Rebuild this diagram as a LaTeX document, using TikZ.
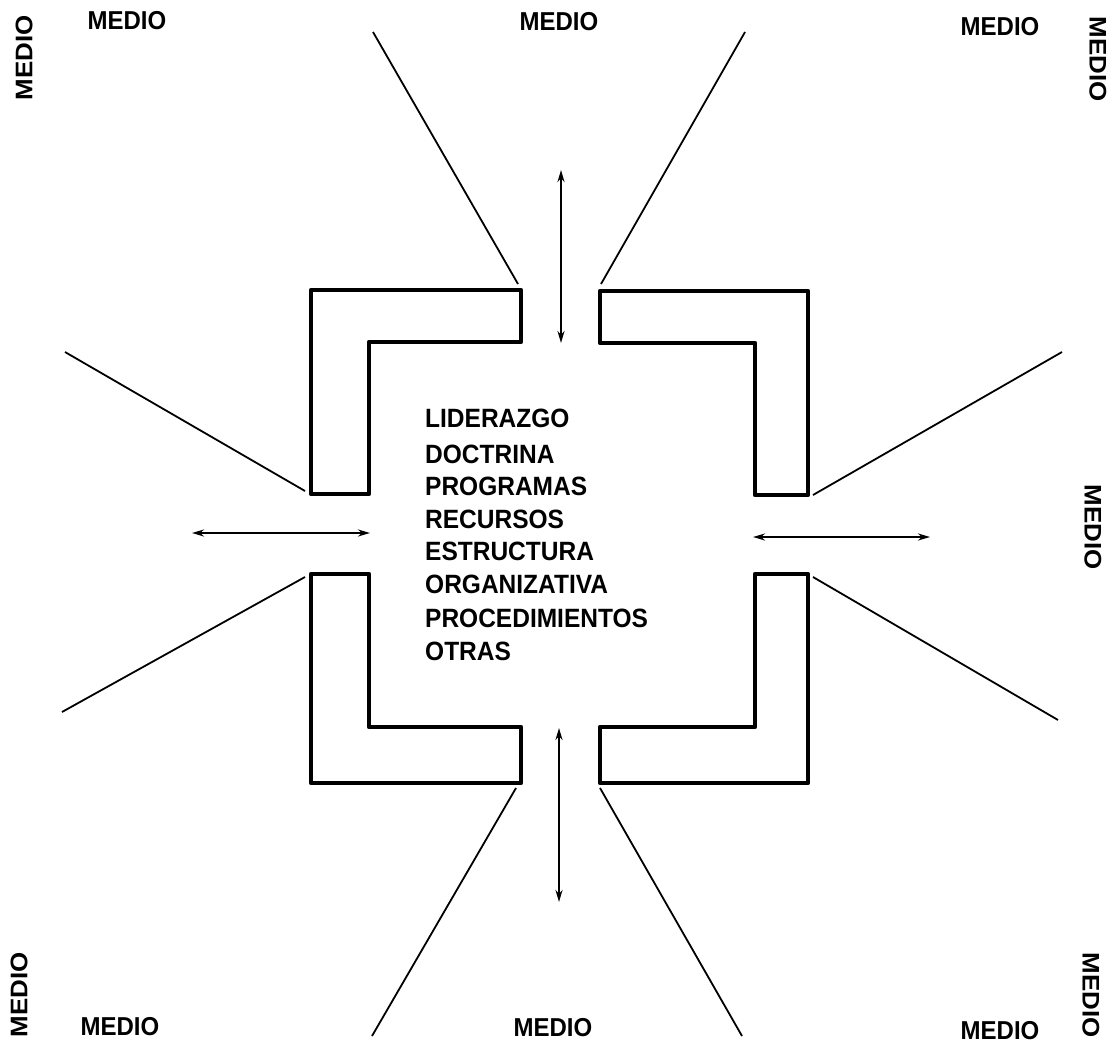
\documentclass[tikz,border=0pt]{standalone}
\usepackage{fontspec}
\setmainfont{Liberation Sans}
\usetikzlibrary{arrows.meta}
\begin{document}
\begin{tikzpicture}[x=1pt,y=-1pt,
  lshape/.style={line width=4.5pt,line join=round},
  ray/.style={line width=1.8pt},
  twoway/.style={line width=2.6pt,{Stealth[length=12pt,width=7pt]}-{Stealth[length=12pt,width=7pt]}},
  lbl/.style={font=\bfseries\fontsize{24}{24}\selectfont,inner sep=0pt,yscale=1.08},
  item/.style={font=\bfseries\fontsize{24.5}{24.5}\selectfont,inner sep=0pt,anchor=base west,yscale=1.08}]
\useasboundingbox (0,0) rectangle (1117,1046);
% L shapes
\draw[lshape] (311,290) -- (521,290) -- (521,342) -- (369,342) -- (369,494) -- (311,494) -- cycle;
\draw[lshape] (600,291) -- (808,291) -- (808,495) -- (755,495) -- (755,343) -- (600,343) -- cycle;
\draw[lshape] (311,574) -- (369,574) -- (369,727) -- (521,727) -- (521,783) -- (311,783) -- cycle;
\draw[lshape] (755,574) -- (808,574) -- (808,783) -- (600,783) -- (600,727) -- (755,727) -- cycle;
% ray endpoints
\coordinate (r1a) at (518,284); \coordinate (r1b) at (373,32);
\coordinate (r2a) at (601,284); \coordinate (r2b) at (745,32);
\coordinate (r3a) at (305,491); \coordinate (r3b) at (65,352);
\coordinate (r4a) at (813,495); \coordinate (r4b) at (1062,352);
\coordinate (r5a) at (305,577); \coordinate (r5b) at (62,712);
\coordinate (r6a) at (813,577); \coordinate (r6b) at (1058,720);
\coordinate (r7a) at (516,788); \coordinate (r7b) at (372,1036);
\coordinate (r8a) at (600,788); \coordinate (r8b) at (742,1036);
\foreach \i in {1,...,8} \draw[ray] (r\i a) -- (r\i b);
% arrows
\coordinate (at1) at (561,170); \coordinate (at2) at (561,343);
\coordinate (al1) at (192,533); \coordinate (al2) at (370,533);
\coordinate (ar1) at (753,537); \coordinate (ar2) at (930,537);
\coordinate (ab1) at (559,728); \coordinate (ab2) at (559,902);
\draw[twoway] (at1) -- (at2);
\draw[twoway] (al1) -- (al2);
\draw[twoway] (ar1) -- (ar2);
\draw[twoway] (ab1) -- (ab2);
% central list
\node[item] (t1) at (425,427) {LIDERAZGO};
\node[item] (t2) at (425,463) {DOCTRINA};
\node[item] (t3) at (425,495) {PROGRAMAS};
\node[item] (t4) at (425,528) {RECURSOS};
\node[item] (t5) at (425,560) {ESTRUCTURA};
\node[item] (t6) at (425,593) {ORGANIZATIVA};
\node[item] (t7) at (425,627) {PROCEDIMIENTOS};
\node[item] (t8) at (425,660) {OTRAS};
% MEDIO labels
\node[lbl] (m1) at (127,21) {MEDIO};
\node[lbl,rotate=90] (m2) at (24,58) {MEDIO};
\node[lbl] (m3) at (559,22) {MEDIO};
\node[lbl] (m4) at (1000,27) {MEDIO};
\node[lbl,rotate=-90] (m5) at (1098,59) {MEDIO};
\node[lbl,rotate=-90] (m6) at (1093,527) {MEDIO};
\node[lbl,rotate=90] (m7) at (19,995) {MEDIO};
\node[lbl] (m8) at (120,1027) {MEDIO};
\node[lbl] (m9) at (553,1028) {MEDIO};
\node[lbl] (m10) at (1000,1031) {MEDIO};
\node[lbl,rotate=-90] (m11) at (1091,995) {MEDIO};
\end{tikzpicture}
\end{document}
